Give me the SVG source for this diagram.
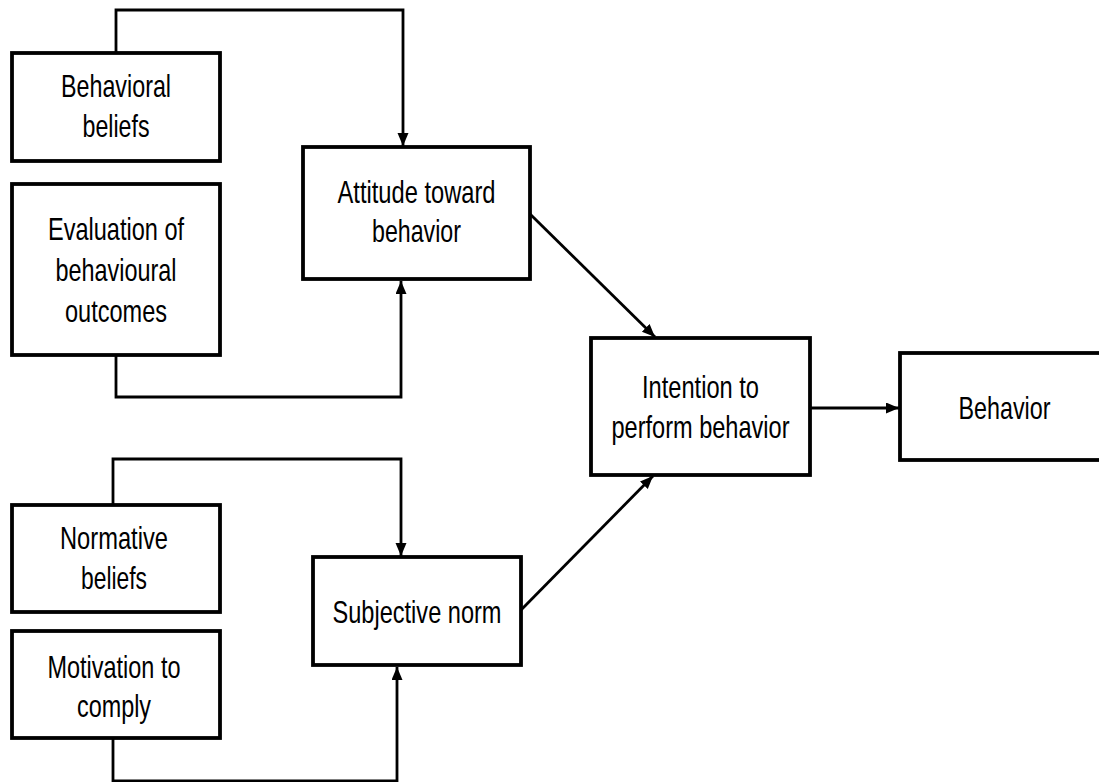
<svg xmlns="http://www.w3.org/2000/svg" width="1099" height="782" viewBox="0 0 1099 782">
<style>
.box{fill:#fff;stroke:#000;stroke-width:3.8}
.lbl{font-family:"Liberation Sans",Arial,sans-serif;font-size:32px;fill:#000;text-anchor:middle}
.con{fill:none;stroke:#000;stroke-width:2.8}
</style>
<defs>
<marker id="arr" markerUnits="userSpaceOnUse" markerWidth="15" markerHeight="12" refX="13" refY="5.5" orient="auto">
<path d="M0,0 L13,5.5 L0,11 Z" fill="#000"/>
</marker>
</defs>
<rect width="1099" height="782" fill="#fff"/>
<g id="connectors">
<path class="con" d="M116,53 V10 H403 V146" marker-end="url(#arr)"/>
<path class="con" d="M116,355 V397 H401 V281" marker-end="url(#arr)"/>
<path class="con" d="M113,505 V459 H401 V556" marker-end="url(#arr)"/>
<path class="con" d="M113,738 V781 H397 V667" marker-end="url(#arr)"/>
<path class="con" d="M530,214 L655,337" marker-end="url(#arr)"/>
<path class="con" d="M521,610 L653,476" marker-end="url(#arr)"/>
<path class="con" d="M810,408 H899" marker-end="url(#arr)"/>
</g>
<g id="behavioral-beliefs">
<rect class="box" x="12" y="53" width="208" height="108"/>
<text class="lbl" x="116" y="97" textLength="110" lengthAdjust="spacingAndGlyphs">Behavioral</text>
<text class="lbl" x="116" y="137" textLength="67" lengthAdjust="spacingAndGlyphs">beliefs</text>
</g>
<g id="evaluation">
<rect class="box" x="12" y="184" width="208" height="171"/>
<text class="lbl" x="116" y="240" textLength="136" lengthAdjust="spacingAndGlyphs">Evaluation of</text>
<text class="lbl" x="116" y="281" textLength="121" lengthAdjust="spacingAndGlyphs">behavioural</text>
<text class="lbl" x="116" y="322" textLength="102" lengthAdjust="spacingAndGlyphs">outcomes</text>
</g>
<g id="attitude">
<rect class="box" x="303" y="147" width="227" height="132"/>
<text class="lbl" x="416.5" y="203" textLength="158" lengthAdjust="spacingAndGlyphs">Attitude toward</text>
<text class="lbl" x="416.5" y="242" textLength="89" lengthAdjust="spacingAndGlyphs">behavior</text>
</g>
<g id="intention">
<rect class="box" x="591" y="338" width="219" height="137"/>
<text class="lbl" x="700.5" y="398" textLength="117" lengthAdjust="spacingAndGlyphs">Intention to</text>
<text class="lbl" x="700.5" y="438" textLength="178" lengthAdjust="spacingAndGlyphs">perform behavior</text>
</g>
<g id="behavior">
<rect class="box" x="900" y="353" width="220" height="107"/>
<text class="lbl" x="1004.5" y="419" textLength="92" lengthAdjust="spacingAndGlyphs">Behavior</text>
</g>
<g id="normative-beliefs">
<rect class="box" x="12" y="505" width="208" height="107"/>
<text class="lbl" x="114" y="549" textLength="108" lengthAdjust="spacingAndGlyphs">Normative</text>
<text class="lbl" x="114" y="589" textLength="66" lengthAdjust="spacingAndGlyphs">beliefs</text>
</g>
<g id="motivation">
<rect class="box" x="12" y="631" width="208" height="107"/>
<text class="lbl" x="114" y="678" textLength="133" lengthAdjust="spacingAndGlyphs">Motivation to</text>
<text class="lbl" x="114" y="717" textLength="74" lengthAdjust="spacingAndGlyphs">comply</text>
</g>
<g id="subjective-norm">
<rect class="box" x="313" y="557" width="208" height="108"/>
<text class="lbl" x="417" y="623" textLength="169" lengthAdjust="spacingAndGlyphs">Subjective norm</text>
</g>
</svg>
